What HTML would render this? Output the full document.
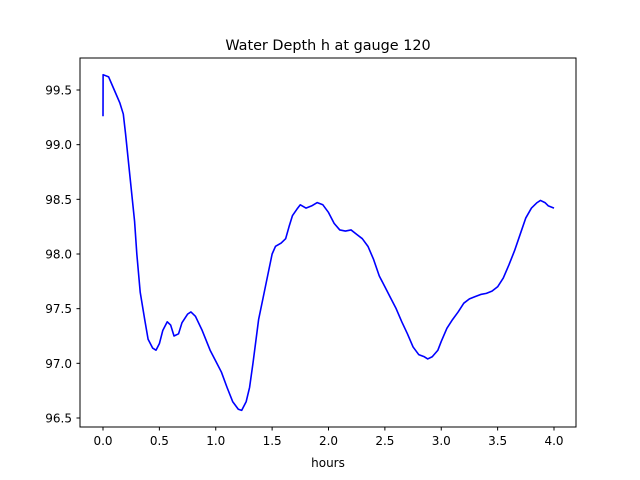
<!DOCTYPE html>
<html><head><meta charset="utf-8"><style>
body{margin:0;background:#fff}
svg{display:block;font-family:"DejaVu Sans","Liberation Sans",sans-serif}
</style></head><body>
<svg id="chart" width="640" height="480" viewBox="0 0 640 480">
<rect x="0" y="0" width="640" height="480" fill="#fff"/>
<text x="328" y="50" text-anchor="middle" font-size="14.4">Water Depth h at gauge 120</text>
<g id="plot"></g>
<rect x="80" y="58" width="496" height="369" fill="none" stroke="#000" stroke-width="1"/>
<text x="328" y="467" text-anchor="middle" font-size="12">hours</text>
</svg>
<script>
const xTicks=[0,0.5,1,1.5,2,2.5,3,3.5,4];
const xTickLabels=["0.0","0.5","1.0","1.5","2.0","2.5","3.0","3.5","4.0"];
const yTicks=[96.5,97,97.5,98,98.5,99,99.5];
const yTickLabels=["96.5","97.0","97.5","98.0","98.5","99.0","99.5"];
const hours=[0,0.001,0.05,0.1,0.15,0.18,0.2,0.25,0.28,0.3,0.33,0.37,0.4,0.44,0.47,0.5,0.53,0.57,0.6,0.63,0.67,0.7,0.75,0.78,0.82,0.88,0.95,1.0,1.05,1.1,1.15,1.2,1.23,1.27,1.3,1.33,1.38,1.42,1.47,1.5,1.53,1.58,1.62,1.65,1.68,1.72,1.75,1.8,1.85,1.9,1.95,2.0,2.05,2.1,2.15,2.2,2.25,2.3,2.35,2.4,2.45,2.5,2.55,2.6,2.65,2.7,2.75,2.8,2.85,2.88,2.92,2.97,3.0,3.05,3.1,3.15,3.2,3.25,3.3,3.35,3.4,3.45,3.5,3.55,3.6,3.65,3.7,3.75,3.8,3.85,3.88,3.92,3.95,4.0];
const depth=[99.26,99.64,99.62,99.5,99.38,99.28,99.1,98.6,98.3,98.0,97.65,97.4,97.22,97.14,97.12,97.18,97.3,97.38,97.35,97.25,97.27,97.37,97.45,97.47,97.43,97.3,97.12,97.02,96.92,96.78,96.65,96.58,96.57,96.65,96.78,97.0,97.4,97.6,97.85,98.0,98.07,98.1,98.14,98.25,98.35,98.41,98.45,98.42,98.44,98.47,98.45,98.38,98.28,98.22,98.21,98.22,98.18,98.14,98.07,97.95,97.8,97.7,97.6,97.5,97.38,97.27,97.15,97.08,97.06,97.04,97.06,97.12,97.2,97.32,97.4,97.47,97.55,97.59,97.61,97.63,97.64,97.66,97.7,97.78,97.9,98.03,98.18,98.33,98.42,98.47,98.49,98.47,98.44,98.42];
const NS="http://www.w3.org/2000/svg";
function xs(v){return 103+v*112.75;}
function ys(v){return 90+(99.5-v)*109.33;}
const g=document.getElementById('plot');
xTicks.forEach((t,i)=>{
  const l=document.createElementNS(NS,'line');
  
  
  l.setAttribute('x1',xs(t));l.setAttribute('x2',xs(t));l.setAttribute('y1',427);l.setAttribute('y2',430.5);l.setAttribute('stroke','#000');
  g.appendChild(l);
  const tx=document.createElementNS(NS,'text');
  
  
  tx.setAttribute('x',xs(t));tx.setAttribute('y',445);tx.setAttribute('text-anchor','middle');tx.setAttribute('font-size','12');
  tx.textContent=xTickLabels[i];g.appendChild(tx);
});
yTicks.forEach((t,i)=>{
  const l=document.createElementNS(NS,'line');
  
  
  l.setAttribute('x1',76.5);l.setAttribute('x2',80);l.setAttribute('y1',ys(t));l.setAttribute('y2',ys(t));l.setAttribute('stroke','#000');
  g.appendChild(l);
  const tx=document.createElementNS(NS,'text');
  
  
  tx.setAttribute('x',72);tx.setAttribute('y',ys(t)+4.5);tx.setAttribute('text-anchor','end');tx.setAttribute('font-size','12');
  tx.textContent=yTickLabels[i];g.appendChild(tx);
});
const p=document.createElementNS(NS,'polyline');


p.setAttribute('points',hours.map((h,i)=>xs(h).toFixed(2)+','+ys(depth[i]).toFixed(2)).join(' '));
p.setAttribute('fill','none');p.setAttribute('stroke','#0000ff');p.setAttribute('stroke-width','1.6');p.setAttribute('stroke-linejoin','round');
g.appendChild(p);
</script>
</body></html>
